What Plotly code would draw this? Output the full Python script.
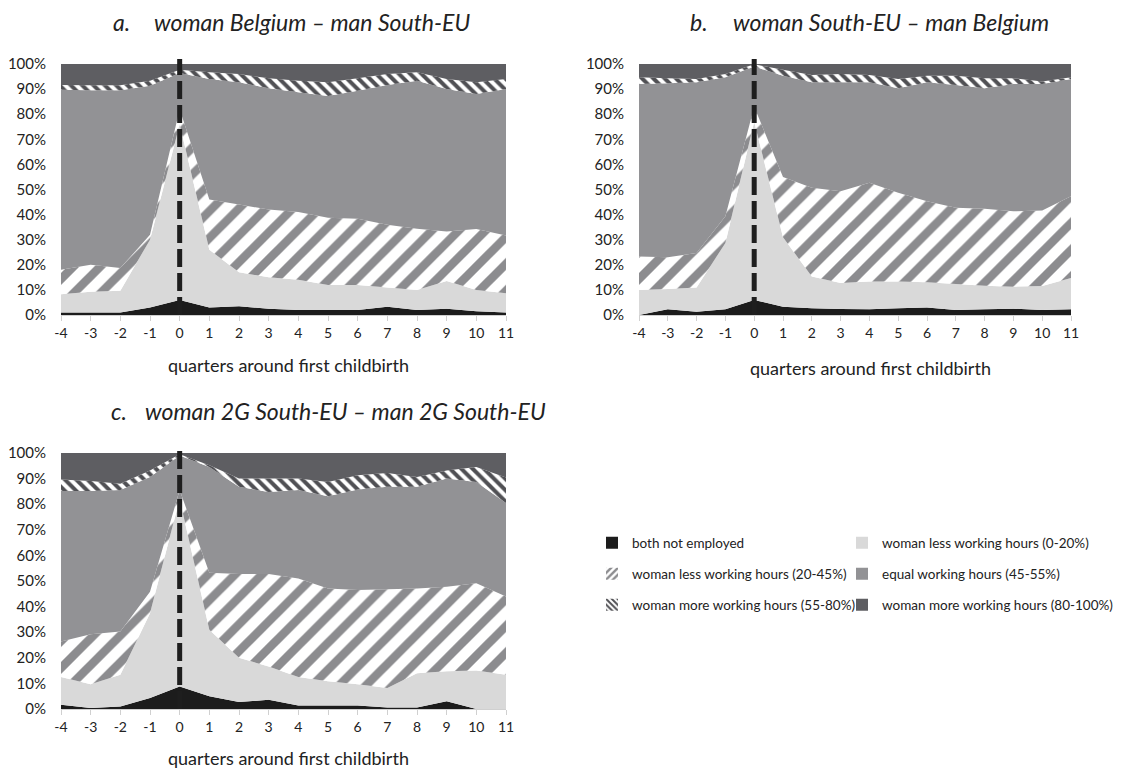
import plotly.graph_objects as go

quarters = list(range(-4, 12))
tick_labels = [str(q) for q in quarters]
y_ticks = [0, 10, 20, 30, 40, 50, 60, 70, 80, 90, 100]
y_tick_labels = [f"{v}%" for v in y_ticks]

series_names = [
    "both not employed",
    "woman less working hours (0-20%)",
    "woman less working hours (20-45%)",
    "equal working hours (45-55%)",
    "woman more working hours (55-80%)",
    "woman more working hours (80-100%)",
]

# Panel a: woman Belgium – man South-EU (shares in %)
a_none = [1, 1, 1, 3, 6, 3, 3.5, 2.5, 2, 2, 2, 3.3, 2, 2.5, 1.5, 1]
a_less_0_20 = [7.3, 8.3, 8.7, 27, 70, 23, 13.5, 12.5, 12, 10, 10, 7.7, 8, 11, 8.5, 7.7]
a_less_20_45 = [9.7, 10.7, 9, 2, 6, 20, 27, 27, 27, 26.7, 26.3, 25, 24.4, 19.8, 24.3, 23]
a_equal = [71.7, 69.5, 70.8, 59.3, 14.4, 48, 48.7, 48.3, 47.7, 48.6, 51, 55.6, 58.9, 56.7, 53.7, 58.3]
a_more_55_80 = [1.9, 2, 2, 2, 1.3, 2.7, 3.3, 4, 4.6, 5.4, 5, 4.4, 3.4, 4, 4.7, 4]
a_more_80_100 = [8.4, 8.5, 8.5, 6.7, 2.3, 3.3, 4, 5.7, 6.7, 7.3, 5.7, 4, 3.3, 6, 7.3, 6]

# Panel b: woman South-EU – man Belgium
b_none = [0, 2.3, 1.3, 2.3, 6, 3.3, 2.7, 2.4, 2.3, 2.7, 3, 2, 2.3, 2.5, 2, 2.3]
b_less_0_20 = [10, 8.1, 9.7, 26.4, 71, 27.7, 12.6, 10.3, 11, 10.6, 10, 10.4, 9.4, 8.8, 9.6, 12.4]
b_less_20_45 = [13.3, 12.6, 13.7, 10.6, 6, 24, 35.4, 36.6, 39.4, 35.4, 32.3, 30.3, 30.6, 30, 30, 32.6]
b_equal = [68.7, 69.3, 68, 55.4, 16, 40.3, 42, 43.4, 40, 41.6, 47.4, 48.9, 48, 50.7, 50.4, 46.7]
b_more_55_80 = [2.7, 2, 1.3, 1.3, 0.9, 2.4, 2.9, 3.3, 2.9, 3.7, 2.6, 3.7, 4, 2.3, 1, 0.7]
b_more_80_100 = [5.3, 5.7, 6, 4, 0.1, 2.3, 4.4, 4, 4.4, 6, 4.7, 4.7, 5.7, 5.7, 7, 5.3]

# Panel c: woman 2G South-EU – man 2G South-EU
c_none = [1.7, 0.4, 1, 4.3, 8.8, 5, 2.7, 3.6, 1.4, 1.4, 1.4, 0.6, 0.6, 3, 0, 0]
c_less_0_20 = [10.8, 9.3, 12.4, 33.1, 73.2, 26, 17.3, 13, 11.1, 9.4, 8.3, 7.6, 13.4, 11.7, 15, 13.4]
c_less_20_45 = [13.9, 19.5, 16.9, 8.4, 3.5, 22.2, 32.7, 36.1, 38.5, 36.3, 36.8, 38.6, 33.1, 33.1, 34.1, 30.5]
c_equal = [58.8, 56, 55.2, 44.8, 13.5, 41.3, 34.1, 32.1, 34.5, 36, 39.2, 40, 39.7, 42.2, 39.6, 36.6]
c_more_55_80 = [4.4, 3.9, 2.5, 2.6, 0.5, 0.7, 3.2, 5.2, 4.5, 5.6, 5.6, 5.4, 3.8, 3.2, 5.8, 9.9]
c_more_80_100 = [10.4, 10.9, 12, 6.8, 0.5, 4.8, 10, 10, 10, 11.3, 8.7, 7.8, 9.4, 6.8, 5.5, 9.6]

panels = [
    ("x", "y", [a_none, a_less_0_20, a_less_20_45, a_equal, a_more_55_80, a_more_80_100]),
    ("x2", "y2", [b_none, b_less_0_20, b_less_20_45, b_equal, b_more_55_80, b_more_80_100]),
    ("x3", "y3", [c_none, c_less_0_20, c_less_20_45, c_equal, c_more_55_80, c_more_80_100]),
]

BLACK = "#1c1c1c"
LIGHT = "#d9d9d9"
EQUAL = "#929295"
DARK = "#5e5e62"
STRIPE_GREY = "#8c8c8f"

styles = [
    dict(fillcolor=BLACK),
    dict(fillcolor=LIGHT),
    dict(fillcolor=STRIPE_GREY, fillpattern=dict(shape="/", bgcolor="white", fgcolor=STRIPE_GREY,
                                                 fgopacity=1, size=19, solidity=0.45)),
    dict(fillcolor=EQUAL),
    dict(fillcolor=DARK, fillpattern=dict(shape="\\", bgcolor="white", fgcolor="#505054",
                                          fgopacity=1, size=8, solidity=0.5)),
    dict(fillcolor=DARK),
]

fig = go.Figure()

for pi, (xa, ya, vals) in enumerate(panels):
    for si, v in enumerate(vals):
        fig.add_trace(go.Scatter(
            x=quarters, y=v, xaxis=xa, yaxis=ya,
            mode="none", stackgroup=f"s{pi}",
            name=series_names[si], showlegend=False,
            hoverinfo="skip", **styles[si]))

# legend entries (small square swatches, like the original), one legend box per entry
legend_patterns = [
    dict(color=BLACK),
    dict(color=LIGHT),
    dict(color=STRIPE_GREY, pattern=dict(shape="/", bgcolor="white", fgcolor=STRIPE_GREY, fgopacity=1, size=6, solidity=0.5)),
    dict(color=EQUAL),
    dict(color=DARK, pattern=dict(shape="\\", bgcolor="white", fgcolor="#505054", fgopacity=1, size=5, solidity=0.5)),
    dict(color=DARK),
]
legend_ids = ["legend", "legend2", "legend3", "legend4", "legend5", "legend6"]
for si, name in enumerate(series_names):
    fig.add_trace(go.Bar(
        x=[None], y=[None], xaxis="x", yaxis="y", name=name,
        marker=dict(line=dict(width=0), **legend_patterns[si]),
        legend=legend_ids[si], showlegend=True, hoverinfo="skip"))

# page has an 8px body margin: map reference pixels to figure pixels
OFF = 8
W, H = 1126 - OFF, 772 - OFF
def px_x(p):
    return (p - OFF) / W
def px_y(p):
    return 1 - (p - OFF) / H

font_family = "Lato, 'Open Sans', sans-serif"
axis_common = dict(showgrid=False, zeroline=False, automargin=False)
xcommon = dict(range=[-4, 11], tickmode="array", tickvals=quarters, ticktext=tick_labels,
               showline=True, linecolor="#d0d0d0", linewidth=1, ticks="outside",
               ticklen=5, tickcolor="#d0d0d0", tickfont=dict(size=14, color="#222"), **axis_common)
ycommon = dict(range=[0, 100], tickmode="array", tickvals=y_ticks, ticktext=y_tick_labels,
               showline=False, ticks="outside", ticklen=11, tickcolor="rgba(0,0,0,0)",
               tickfont=dict(size=15, color="#222"), **axis_common)

fig.update_layout(
    width=W, height=H,
    margin=dict(l=0, r=0, t=0, b=0, autoexpand=False),
    paper_bgcolor="white", plot_bgcolor="white",
    font=dict(family=font_family, color="#222"),
    xaxis=dict(domain=[px_x(61), px_x(506)], anchor="y", **xcommon),
    yaxis=dict(domain=[px_y(315), px_y(64)], anchor="x", **ycommon),
    xaxis2=dict(domain=[px_x(639), px_x(1071)], anchor="y2", **xcommon),
    yaxis2=dict(domain=[px_y(315), px_y(64)], anchor="x2", **ycommon),
    xaxis3=dict(domain=[px_x(61), px_x(506)], anchor="y3", **xcommon),
    yaxis3=dict(domain=[px_y(709), px_y(453)], anchor="x3", **ycommon),
    barmode="overlay",
)

leg_common = dict(orientation="v", xanchor="left", yanchor="middle",
                  font=dict(size=13.5, color="#222"), bgcolor="rgba(0,0,0,0)",
                  itemwidth=30, borderwidth=0)
legend_pos = [(592, 543), (842, 543), (592, 574), (842, 574), (592, 605), (842, 605)]
leg_layout = {}
for lid, (lx, ly) in zip(legend_ids, legend_pos):
    leg_layout[lid] = dict(x=px_x(lx), y=px_y(ly), **leg_common)
fig.update_layout(**leg_layout)

# dashed vertical line at first childbirth
for xa, ya in [("x", "y"), ("x2", "y2"), ("x3", "y3")]:
    fig.add_shape(type="line", xref=xa, yref=f"{ya} domain", x0=0, x1=0, y0=0, y1=1.02,
                  line=dict(color="#1e1e1e", width=5, dash="18px,6px"))

titles = [
    ("a.", 111, "woman Belgium – man South-EU", 152, 22),
    ("b.", 688, "woman South-EU – man Belgium", 731, 22),
    ("c.", 109, "woman 2G South-EU – man 2G South-EU", 143, 411),
]
for lab, lx, txt, tx, ty in titles:
    fig.add_annotation(text=lab, x=px_x(lx), y=px_y(ty), xref="paper", yref="paper",
                       xanchor="left", yanchor="middle", showarrow=False,
                       font=dict(size=23, style="italic", color="#222"))
    fig.add_annotation(text=txt, x=px_x(tx), y=px_y(ty), xref="paper", yref="paper",
                       xanchor="left", yanchor="middle", showarrow=False,
                       font=dict(size=23, style="italic", color="#222"))

for cx, cy in [(288, 365), (870, 368), (288, 758)]:
    fig.add_annotation(text="quarters around first childbirth", x=px_x(cx), y=px_y(cy),
                       xref="paper", yref="paper", xanchor="center", yanchor="middle",
                       showarrow=False, font=dict(size=18, color="#222"))

fig.write_html("out.html")
